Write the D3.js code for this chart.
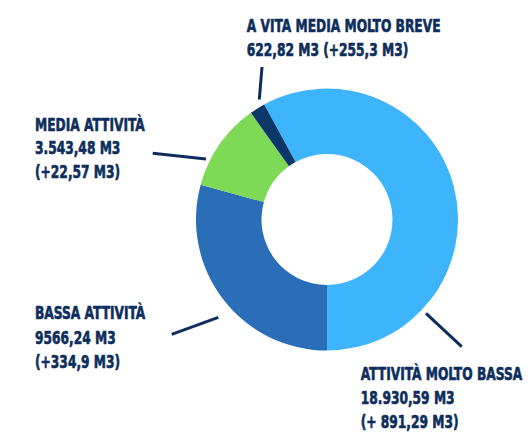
<!DOCTYPE html>
<html>
<head>
<meta charset="utf-8">
<script src="https://cdn.jsdelivr.net/npm/d3@7"></script>
<style>
  html, body { margin: 0; padding: 0; background: #ffffff; }
  svg { display: block; }
  text { font-family: "DejaVu Sans", sans-serif; font-stretch: condensed; font-weight: bold; }
</style>
</head>
<body>
<svg id="chart" width="530" height="441"></svg>
<script>
// ---- data ----
const categories = ["ATTIVITÀ MOLTO BASSA", "BASSA ATTIVITÀ", "MEDIA ATTIVITÀ", "A VITA MEDIA MOLTO BREVE"];
const volumes = [18930.59, 9566.24, 3543.48, 622.82];
const volumeLabels = ["18.930,59 M3", "9566,24 M3", "3.543,48 M3", "622,82 M3"];
const changeLabels = ["(+ 891,29 M3)", "(+334,9 M3)", "(+22,57 M3)", "(+255,3 M3)"];

// ---- styles / layout ----
const colors = ["#3db4fb", "#2a6eb8", "#7ed957", "#0b3769"];
const textColor = "#0d2e5c";
const cx = 327, cy = 219.5, rOuter = 131, rInner = 65.5;
// label blocks: x, first baseline, line height, whether value+change share a line
const labelLayout = [
  { x: 360.7, y: 380,   lh: 24.2, joined: false },
  { x: 35,    y: 319.3, lh: 24.5, joined: false },
  { x: 35,    y: 130.7, lh: 23.5, joined: false },
  { x: 246.7, y: 31.7,  lh: 24.3, joined: true }
];
const leaders = [
  [[426, 313.3], [461.7, 346.7]],
  [[218.3, 317.3], [171.7, 334.3]],
  [[206, 159], [152.7, 153.3]],
  [[262, 67], [259.3, 99.5]]
];
const refWidth = 194; // width of the longest title line in the reference

const svg = d3.select("#chart");

const total = d3.sum(volumes);
// first slice ends at the bottom (angle π), running clockwise
const startA = Math.PI - 2 * Math.PI * volumes[0] / total;
const pie = d3.pie().sort(null).startAngle(startA).endAngle(startA + 2 * Math.PI);
const arc = d3.arc().innerRadius(rInner).outerRadius(rOuter);

const g = svg.append("g").attr("transform", `translate(${cx},${cy})`);
g.selectAll("path")
  .data(pie(volumes))
  .join("path")
  .attr("d", arc)
  .attr("fill", (d, i) => colors[i]);

// leader lines
svg.selectAll("line.leader")
  .data(leaders)
  .join("line")
  .attr("class", "leader")
  .attr("x1", d => d[0][0]).attr("y1", d => d[0][1])
  .attr("x2", d => d[1][0]).attr("y2", d => d[1][1])
  .attr("stroke", textColor)
  .attr("stroke-width", 3);

// labels
const fontSize = 17;
const labels = svg.append("g");
categories.forEach((name, i) => {
  const L = labelLayout[i];
  const lines = L.joined
    ? [name, volumeLabels[i] + " " + changeLabels[i]]
    : [name, volumeLabels[i], changeLabels[i]];
  const blk = labels.append("g").attr("class", "lbl").attr("data-x", L.x).attr("data-y", L.y);
  lines.forEach((t, j) => {
    blk.append("text")
      .attr("x", 0)
      .attr("y", j * L.lh)
      .attr("font-size", fontSize)
      .attr("fill", textColor)
      .attr("stroke", textColor)
      .attr("stroke-width", 0.6)
      .attr("stroke-linejoin", "round")
      .text(t);
  });
});

// horizontal condensing factor measured from the longest title
const probe = labels.selectAll("g.lbl").filter((d, i) => i === 3).select("text").node();
const sx = refWidth / probe.getComputedTextLength();
labels.selectAll("g.lbl").each(function () {
  const el = d3.select(this);
  el.attr("transform", `translate(${+el.attr("data-x")},${+el.attr("data-y")}) scale(${sx},1)`);
});
</script>
</body>
</html>
